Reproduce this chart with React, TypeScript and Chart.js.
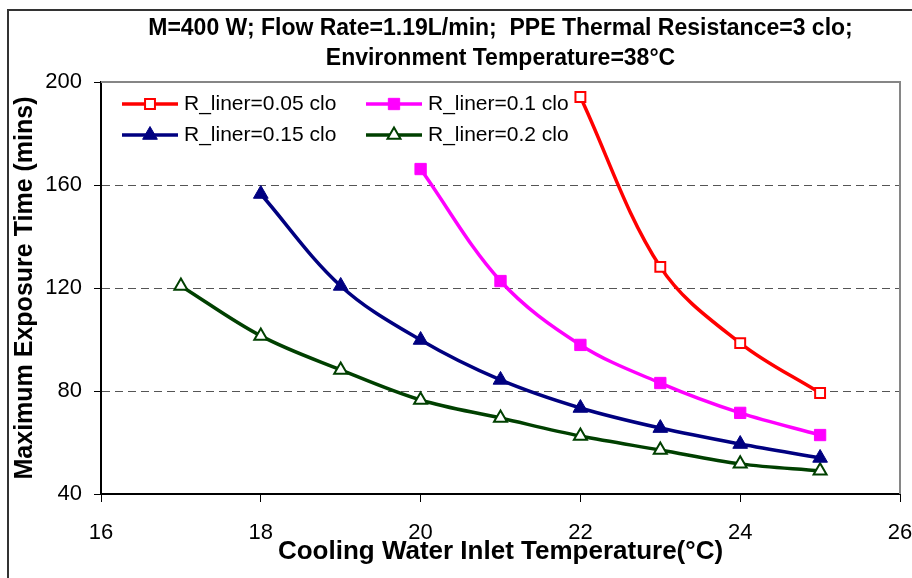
import React, { useEffect, useRef } from "react";
import { Chart, registerables } from "chart.js";
import { drawPoint } from "chart.js/helpers";

Chart.register(...registerables);

// Cooling water inlet temperature (°C)
const inletTemps = [17, 18, 19, 20, 21, 22, 23, 24, 25];

// Maximum exposure time (mins) for each liner resistance; null = not computed
const liner005 = [null, null, null, null, null, 194.2, 128.2, 98.6, 79.2];
const liner010 = [null, null, null, 166.2, 122.7, 97.9, 83.1, 71.5, 62.9];
const liner015 = [null, 156.5, 120.8, 99.8, 84.3, 73.4, 65.6, 59.4, 54.0];
const liner020 = [120.8, 101.4, 88.2, 76.5, 69.5, 62.5, 57.1, 51.7, 49.0];

const seriesLabels = [
  "R_liner=0.05 clo",
  "R_liner=0.1 clo",
  "R_liner=0.15 clo",
  "R_liner=0.2 clo",
];

const titleLines = [
  "M=400 W; Flow Rate=1.19L/min;  PPE Thermal Resistance=3 clo;",
  "Environment Temperature=38°C",
];
const xAxisTitle = "Cooling Water Inlet Temperature(°C)";
const yAxisTitle = "Maximum Exposure Time (mins)";

const xTickMin = 16;
const xTickMax = 26;
const xTickStep = 2;
const yTickMin = 40;
const yTickMax = 200;
const yTickStep = 40;

const FONT = '"Liberation Sans", Arial, Helvetica, sans-serif';

const toPoints = (values: (number | null)[]) =>
  inletTemps
    .map((t, i) => ({ x: t, y: values[i] }))
    .filter((p) => p.y !== null) as { x: number; y: number }[];

// Gray frame along the top and right of the plot area
const plotFrame = {
  id: "plotFrame",
  beforeDatasetsDraw(chart: any) {
    const { ctx, chartArea } = chart;
    ctx.save();
    ctx.strokeStyle = "#868686";
    ctx.lineWidth = 2;
    ctx.setLineDash([]);
    ctx.beginPath();
    ctx.moveTo(chartArea.left, chartArea.top);
    ctx.lineTo(chartArea.right, chartArea.top);
    ctx.lineTo(chartArea.right, chartArea.bottom);
    ctx.stroke();
    ctx.restore();
  },
};

// Two-column legend drawn inside the plot area: line sample + marker + label
const insideLegend = {
  id: "insideLegend",
  afterDatasetsDraw(chart: any) {
    const { ctx, chartArea } = chart;
    ctx.save();
    chart.data.datasets.forEach((ds: any, i: number) => {
      const col = i % 2;
      const row = Math.floor(i / 2);
      const x0 = chartArea.left + 21 + col * 244;
      const y = chartArea.top + 22 + row * 31;
      ctx.setLineDash([]);
      ctx.strokeStyle = ds.borderColor;
      ctx.lineWidth = ds.borderWidth;
      ctx.beginPath();
      ctx.moveTo(x0, y);
      ctx.lineTo(x0 + 56, y);
      ctx.stroke();
      ctx.fillStyle = ds.pointBackgroundColor;
      ctx.strokeStyle = ds.pointBorderColor;
      ctx.lineWidth = ds.pointBorderWidth;
      drawPoint(
        ctx,
        {
          pointStyle: ds.pointStyle,
          radius: ds.pointRadius,
          borderWidth: ds.pointBorderWidth,
          rotation: 0,
        } as any,
        x0 + 28,
        y
      );
      ctx.fillStyle = "#000";
      ctx.font = `21px ${FONT}`;
      ctx.textAlign = "left";
      ctx.textBaseline = "middle";
      ctx.fillText(ds.label, x0 + 62, y);
    });
    ctx.restore();
  },
};

export default function App() {
  const canvasRef = useRef<HTMLCanvasElement | null>(null);

  useEffect(() => {
    const canvas = canvasRef.current;
    if (!canvas) return;

    const gridValues = new Set([80, 120, 160]);

    const chart = new Chart(canvas, {
      type: "line",
      data: {
        datasets: [
          {
            label: seriesLabels[0],
            data: toPoints(liner005),
            borderColor: "#FF0000",
            borderWidth: 3.5,
            pointStyle: "rect",
            pointRadius: 7,
            pointBorderWidth: 2,
            pointBorderColor: "#FF0000",
            pointBackgroundColor: "#FFFFFF",
            tension: 0.35,
          },
          {
            label: seriesLabels[1],
            data: toPoints(liner010),
            borderColor: "#FF00FF",
            borderWidth: 3.5,
            pointStyle: "rect",
            pointRadius: 8,
            pointBorderWidth: 1,
            pointBorderColor: "#FF00FF",
            pointBackgroundColor: "#FF00FF",
            tension: 0.35,
          },
          {
            label: seriesLabels[2],
            data: toPoints(liner015),
            borderColor: "#000080",
            borderWidth: 3.5,
            pointStyle: "triangle",
            pointRadius: 8.5,
            pointBorderWidth: 1,
            pointBorderColor: "#000080",
            pointBackgroundColor: "#000080",
            tension: 0.35,
          },
          {
            label: seriesLabels[3],
            data: toPoints(liner020),
            borderColor: "#004000",
            borderWidth: 3.5,
            pointStyle: "triangle",
            pointRadius: 7.5,
            pointBorderWidth: 2,
            pointBorderColor: "#004000",
            pointBackgroundColor: "#FFFFFF",
            tension: 0.35,
          },
        ],
      },
      options: {
        responsive: false,
        devicePixelRatio: 1,
        animation: false,
        layout: { padding: 0 },
        plugins: {
          legend: { display: false },
          tooltip: { enabled: false },
          title: {
            display: true,
            text: titleLines,
            fullSize: false,
            color: "#000",
            font: { family: FONT, size: 23, weight: "bold", lineHeight: 30 / 23 },
            padding: { top: 14, bottom: 8 },
          },
        },
        scales: {
          x: {
            type: "linear",
            min: xTickMin,
            max: xTickMax,
            ticks: {
              stepSize: xTickStep,
              color: "#000",
              font: { family: FONT, size: 22 },
              padding: 18,
              maxRotation: 0,
            },
            grid: {
              drawOnChartArea: false,
              drawTicks: true,
              tickLength: 8,
              tickColor: "#000",
              tickWidth: 1,
            },
            border: { display: true, color: "#000", width: 2 },
            title: {
              display: true,
              text: xAxisTitle,
              color: "#000",
              font: { family: FONT, size: 26, weight: "bold" },
              padding: { top: 0, bottom: 11 },
            },
            afterFit(scale: any) {
              scale.height = 84;
              scale.paddingLeft = 0;
              scale.paddingRight = 12;
            },
          },
          y: {
            type: "linear",
            min: yTickMin,
            max: yTickMax,
            ticks: {
              stepSize: yTickStep,
              color: "#000",
              font: { family: FONT, size: 22 },
              padding: 12,
            },
            grid: {
              color: (c: any) =>
                gridValues.has(c.tick?.value) ? "#555555" : "rgba(0,0,0,0)",
              lineWidth: 1,
              drawTicks: true,
              tickLength: 7,
              tickColor: "#000",
              tickWidth: 1,
            },
            border: { display: true, color: "#000", width: 2, dash: [8, 5] },
            title: {
              display: true,
              text: yAxisTitle,
              color: "#000",
              font: { family: FONT, size: 25, weight: "bold" },
              padding: { top: 10, bottom: 0 },
            },
            afterFit(scale: any) {
              scale.width = 101;
            },
          },
        },
      },
      plugins: [plotFrame, insideLegend],
    });

    return () => chart.destroy();
  }, []);

  return (
    <div
      style={{
        position: "absolute",
        left: 0,
        top: 0,
        width: 912,
        height: 578,
        overflow: "hidden",
        background: "#fff",
      }}
    >
      <div
        style={{
          position: "absolute",
          left: 7,
          top: 9,
          width: 1000,
          height: 1000,
          borderLeft: "2px solid #333",
          borderTop: "2px solid #333",
        }}
      />
      <canvas
        ref={canvasRef}
        width={912}
        height={578}
        style={{ position: "absolute", left: 0, top: 0, display: "block" }}
      />
    </div>
  );
}
